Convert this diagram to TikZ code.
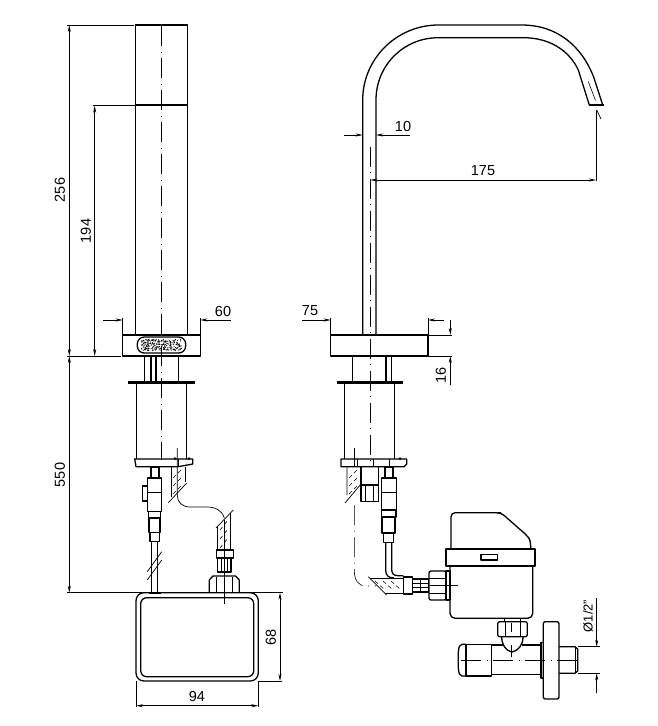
\documentclass[tikz,border=0pt]{standalone}
\usepackage{fontspec}
\setmainfont{Liberation Sans}
\usetikzlibrary{arrows.meta}
\tikzset{
  part/.style={line width=1.3pt, line join=round},
  heavy/.style={line width=2.6pt},
  fine/.style={line width=.7pt},
  dimline/.style={line width=.7pt, -{Stealth[length=7pt,width=3pt]}},
  bothdim/.style={line width=.7pt, {Stealth[length=7pt,width=3pt]}-{Stealth[length=7pt,width=3pt]}},
  extline/.style={line width=.7pt},
  axisline/.style={line width=.6pt, dash pattern=on 20pt off 5.5pt on 1pt off 5.5pt},
  hatchline/.style={line width=.55pt, dash pattern=on 4pt off 3pt},
  dimtext/.style={inner sep=0pt, font=\fontsize{14.5}{14.5}\selectfont},
}
\begin{document}
\begin{tikzpicture}[x=1pt, y=-1pt]
  \useasboundingbox (0,0) rectangle (658,726);

  % Vista lateral: tubo y base
  \draw[part] (135.7,335) -- (135.7,25) -- (187.3,25) -- (187.3,335);
  \draw[heavy] (135.7,105) -- (187.3,105);
  \draw[part] (122.7,335) rectangle (200.3,356);
  \draw[part, rounded corners=7pt] (137.3,337) rectangle (185.7,353);
  \pgfmathsetseed{7}
  \foreach \i in {1,...,230}
    \fill ({141.5+rnd*40},{339.5+rnd*11}) circle (.6pt);
  \draw[axisline] (161.7,26) -- (161.7,460);

  % Vista lateral: cuello y cuerpo
  \draw[part] (144.3,356) -- (144.3,381) (178.7,356) -- (178.7,381);
  \draw[part] (151,356) -- (151,381) (156,356) -- (156,381);
  \draw[heavy] (128,382.7) -- (195,382.7);
  \draw[part] (136.7,383) -- (136.7,459) (186.7,383) -- (186.7,459);
  \draw[part] (134.7,459) -- (192.7,459) -- (192.7,464) -- (178,466.7) -- (136,466.7) -- cycle;
  \draw[fine] (178,459) -- (178,466.7);
  \fill (175,458.5) circle (1.5pt) (189,458.5) circle (1.5pt);

  % Vista lateral: valvula y cable
  \draw[part] (151,467) rectangle (159,478);
  \draw[part] (147.3,478) rectangle (161.7,511.7);
  \draw[part] (147.3,486) rectangle (142.7,501);
  \draw[fine] (147.3,492.7) -- (161.7,492.7);
  \draw[part] (148.3,511.7) rectangle (160.7,518);
  \draw[part] (149,518) rectangle (160,532.7);
  \draw[part] (150,532.7) rectangle (159.3,541.7);
  \draw[part] (151.7,541.7) -- (151.7,592) (157.3,541.7) -- (157.3,592);
  \draw[fine] (147.3,571.7) -- (161.7,551.7) (147.3,580) -- (161.7,560);

  % Vista lateral: manguera en la placa
  \draw[fine] (171,466.7) -- (171,497) (185,466.7) -- (185,482);
  \draw[fine] (168.3,502.7) -- (186.7,483);
  \foreach \yy in {472,480,488}
    \draw[hatchline] (173,\yy+6) -- (183,\yy-4);
  \draw[fine] (177.3,448) -- (177.3,495) .. controls (177.3,502) and (182,507) .. (190,507)
    -- (207,507) .. controls (215,507) and (222,510) .. (224.3,518);

  % Vista lateral: manguera a la caja
  \draw[fine] (216,528) -- (233.3,510);
  \draw[fine] (217.7,526) -- (217.7,550) (230.7,513) -- (230.7,550);
  \foreach \yy in {525,534,543}
    \draw[hatchline] (220,\yy+5) -- (228,\yy-5);
  \draw[part] (216.7,550) rectangle (233.3,558);
  \draw[part] (217.7,558) rectangle (231,572);
  \draw[fine] (221,558) -- (221,572) (224.3,558) -- (224.3,572) (227.7,558) -- (227.7,572);
  \draw[part] (209.3,592.7) -- (209.3,580) -- (213,576) -- (235.6,576) -- (239.3,580) -- (239.3,592.7);
  \draw[fine] (216,577) -- (216,592.7) (232.7,577) -- (232.7,592.7);
  \draw[fine] (224.3,520) -- (224.3,604);

  % Caja de control
  \draw[part, rounded corners=8pt] (136,592.7) rectangle (258.3,681);
  \draw[part, rounded corners=6pt] (140.7,597.7) rectangle (253.7,676.7);
  \draw[line width=1.8pt] (149,592.7) -- (161,592.7);

  % Cotas de la vista lateral
  \draw[extline] (67,25) -- (134,25) (93,105.7) -- (135,105.7) (67,356) -- (121,356);
  \draw[extline] (67,592.7) -- (283,592.7);
  \draw[extline] (122.7,318) -- (122.7,335) (200.3,318) -- (200.3,335);
  \draw[extline] (258.3,681) -- (282,681) (136,681) -- (136,707) (258.3,681) -- (258.3,707);
  \draw[bothdim] (69.3,25) -- (69.3,356);
  \draw[bothdim] (94.7,105.7) -- (94.7,356);
  \draw[bothdim] (69.3,356) -- (69.3,592.7);
  \draw[dimline] (103,320) -- (122.7,320);
  \draw[dimline] (230.7,320) -- (200.3,320);
  \draw[bothdim] (280,592.7) -- (280,681);
  \draw[bothdim] (136,705.7) -- (258.3,705.7);
  \node[dimtext, rotate=90] (d256) at (60,190) {256};
  \node[dimtext, rotate=90] (d194) at (86,231) {194};
  \node[dimtext, rotate=90] (d550) at (60,475) {550};
  \node[dimtext] (d60) at (223,312) {60};
  \node[dimtext, rotate=90] (d68) at (271,637) {68};
  \node[dimtext] (d94) at (197,696) {94};

  % Vista frontal: cano
  \draw[part] (362.7,335) -- (362.7,100) .. controls (362.7,58.6) and (396.9,25) .. (438.3,25)
    -- (521.7,25) .. controls (557,25) and (582,46) .. (594,78) -- (602.7,105);
  \draw[part] (376,335) -- (376,100) .. controls (376,65) and (404,37.7) .. (438.3,37.7)
    -- (523.3,37.7) .. controls (549,37.7) and (569,50) .. (578.3,70) -- (589.3,105);
  \draw[heavy] (588.5,105) -- (603.5,105);
  \draw[axisline] (588.3,81.7) -- (596,101.7);
  \draw[axisline] (370.3,146.7) -- (370.3,466);
  \draw[fine] (596.7,110) -- (601,119);

  % Vista frontal: base y cuerpo
  \draw[part] (330.7,335) rectangle (428,356);
  \draw[part] (352.7,356) -- (352.7,381) (391.3,356) -- (391.3,381) (386,356) -- (386,381);
  \draw[heavy] (336.7,382.7) -- (402.7,382.7);
  \draw[part] (344.3,383) -- (344.3,459) (394.7,383) -- (394.7,459);
  \draw[part] (341,459) -- (406.7,459) -- (406.7,464) -- (404,466.7) -- (341,466.7) -- cycle;
  \draw[fine] (357,459) -- (357,466.7) (373,459) -- (373,466.7) (389,459) -- (389,466.7);
  \fill (400,458.5) circle (1.5pt);

  % Vista frontal: bajo la placa
  \draw[part] (361,466.7) -- (361,501.7) -- (378.3,501.7) -- (378.3,466.7);
  \draw[part] (361,485) -- (378.3,485);
  \draw[fine] (365,485) -- (365,501.7) (373,485) -- (373,501.7);
  \draw[fine] (354.3,448) -- (354.3,466.7);
  \draw[fine] (347,466.7) -- (347,495) (345,503) -- (361,484);
  \foreach \yy in {472,480,488}
    \draw[hatchline] (349,\yy+6) -- (359,\yy-4);
  \draw[part] (385,467) rectangle (393,478);
  \draw[part] (381.7,478) rectangle (396.7,510);
  \draw[fine] (381.7,492.7) -- (396.7,492.7);
  \draw[part] (381.7,510) rectangle (396,517);
  \draw[part] (382,517) rectangle (395,533);
  \draw[part] (383.3,533) rectangle (393.3,542.7);
  \draw[part] (385.7,542.7) -- (385.7,570) .. controls (385.7,575) and (388,578) .. (394,578);
  \draw[part] (391.7,542.7) -- (391.7,569) .. controls (391.7,573) and (393,575.7) .. (398,575.7) -- (403.3,575.7);

  % Vista frontal: manguera y tuerca
  \draw[axisline] (354.3,505) -- (354.3,570) .. controls (354.3,580) and (358,586) .. (366,586) -- (376,586);
  \draw[fine] (368.3,576.7) -- (386.7,595);
  \draw[fine] (385,593) -- (403.3,593) (370,578) -- (403.3,578);
  \foreach \xx in {380,388,396}
    \draw[hatchline] (\xx-5,581) -- (\xx+5,590);
  \draw[part] (403.3,577) rectangle (412.7,594);
  \draw[part] (412.7,579) rectangle (428.3,592);
  \draw[fine] (412.7,583) -- (428.3,583) (412.7,587) -- (428.3,587) (420,579) -- (420,592);
  \draw[part, rounded corners=2pt] (429,571) rectangle (446,600);
  \draw[fine] (429,578) -- (446,578) (429,593) -- (446,593);
  \draw[part] (446,571) rectangle (450,600);
  \draw[fine] (430,585.7) -- (458,585.7);

  % Contador
  \draw[part, rounded corners=4pt] (451,549) -- (451,512.7) -- (501,512.7);
  \draw[part, rounded corners=4pt] (499,512.7) -- (501,512.7) -- (528.3,536.7) -- (530.7,541.7) -- (530.7,549);
  \draw[part] (446,549) rectangle (535,566);
  \draw[part] (481,554.3) rectangle (497.3,560);
  \draw[part, rounded corners=5pt] (450,566) -- (450,618.3) -- (532.7,618.3) -- (532.7,566);

  % Llave de escuadra
  \draw[part] (504.3,618.3) -- (504.3,621.7) (520.7,618.3) -- (520.7,621.7);
  \draw[part, rounded corners=2pt] (497.7,621.7) rectangle (527.3,636.7);
  \draw[fine] (505,621.7) -- (505,636.7) (520,621.7) -- (520,636.7);
  \draw[part] (501.7,637) .. controls (501.7,645) and (506,651) .. (512,652)
    .. controls (518,651) and (523,645) .. (523,637);
  \draw[part] (491.7,645) -- (503,645) (491.7,674.3) -- (541,674.3) (522,645) -- (541,645);
  \draw[part, rounded corners=2pt] (466,644.3) -- (460,644.3) -- (458.3,650) -- (458.3,670) -- (460,676) -- (466,676);
  \draw[part] (466,644.3) rectangle (491.7,676);
  \draw[part] (541,642.7) rectangle (543.3,678);
  \draw[part, rounded corners=2pt] (543.3,621.7) rectangle (559,699);
  \draw[part] (559,646.7) -- (575,646.7) -- (577.7,649) -- (577.7,671) -- (575,673.3) -- (559,673.3);
  \draw[fine] (575,646.7) -- (575,673.3);
  \draw[axisline] (461,660) -- (580.7,660);
  \draw[fine] (511.7,623) -- (511.7,632) (511.7,645) -- (511.7,657);

  % Cotas de la vista frontal
  \draw[dimline] (344.3,135) -- (362.7,135);
  \draw[dimline] (410,135) -- (376,135);
  \draw[bothdim] (370.3,180) -- (596,180);
  \draw[extline] (596,110) -- (596,181);
  \draw[dimline] (301.7,320) -- (330.7,320);
  \draw[dimline] (444,320) -- (428,320);
  \draw[extline] (330.7,318) -- (330.7,335) (428,318) -- (428,335);
  \draw[extline] (428,335) -- (452,335) (428,356) -- (452,356);
  \draw[dimline] (450.3,320) -- (450.3,335);
  \draw[dimline] (450.3,385) -- (450.3,356);
  \draw[extline] (578,646.7) -- (600,646.7) (578,673.3) -- (600,673.3);
  \draw[dimline] (596.7,598) -- (596.7,646.7);
  \draw[dimline] (596.7,693) -- (596.7,673.3);
  \node[dimtext] (d10) at (403,127) {10};
  \node[dimtext] (d175) at (483,171) {175};
  \node[dimtext] (d75) at (310,311) {75};
  \node[dimtext, rotate=90] (d16) at (441,375) {16};
  \node[dimtext, rotate=90, font=\fontsize{13}{13}\selectfont] (d12) at (588,616) {Ø1/2"};
\end{tikzpicture}
\end{document}
